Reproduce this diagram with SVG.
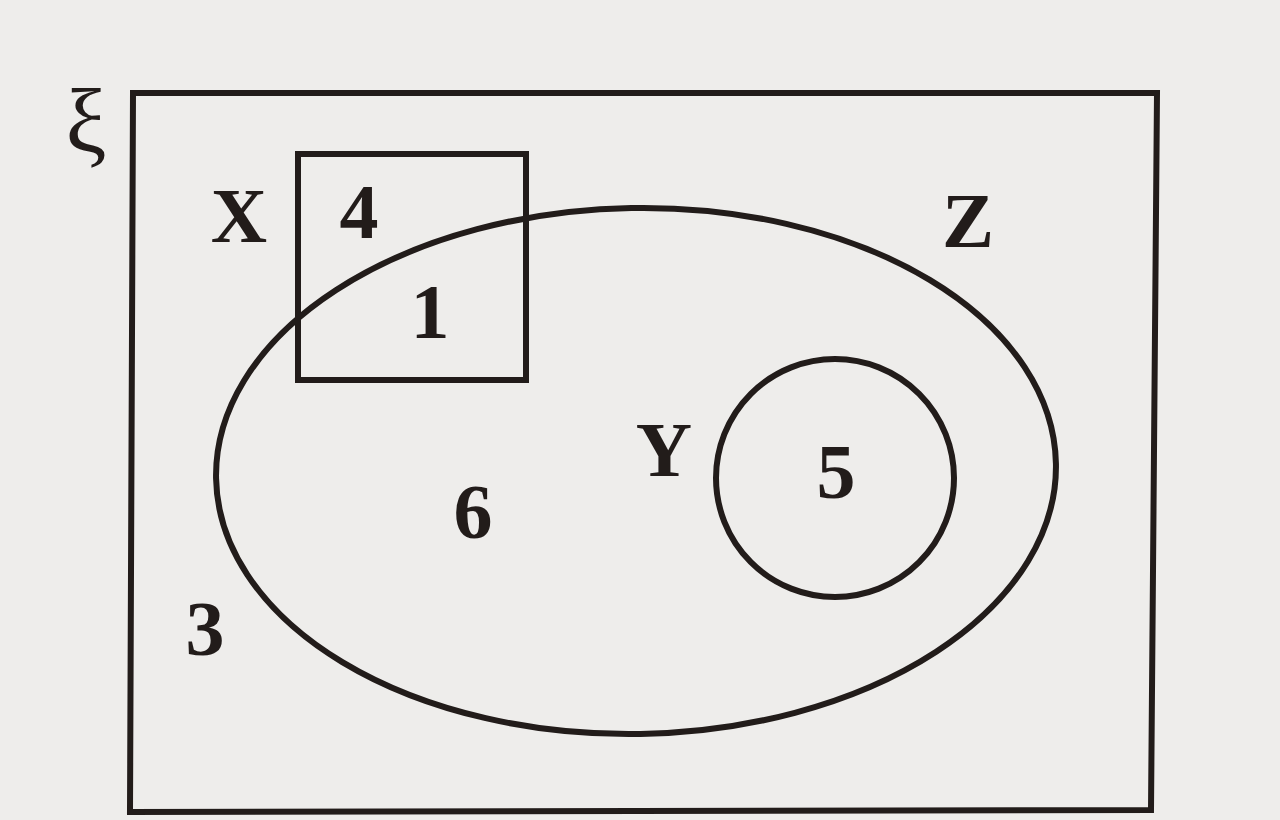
<svg xmlns="http://www.w3.org/2000/svg" width="1280" height="820" viewBox="0 0 1280 820">
<style>
.ln{fill:none;stroke:#221c1a;stroke-width:6}
.lb{font-family:"Liberation Serif","DejaVu Serif",serif;font-weight:bold;font-size:78px;fill:#221c1a;text-anchor:middle}
</style>
<rect width="1280" height="820" fill="#eeedeb"/>
<g id="universe">
<polygon class="ln" points="133,93 1157,93 1151,810 130,812" stroke-width="6.5"/>
<text x="86" y="152" font-family="'Liberation Serif','DejaVu Serif',serif" font-size="92" fill="#221c1a" text-anchor="middle">ξ</text>
<text class="lb" x="205" y="655">3</text>
</g>
<g id="Z">
<ellipse class="ln" cx="636" cy="471" rx="420" ry="263" transform="rotate(-1 636 471)"/>
<text class="lb" x="968" y="247">Z</text>
<text class="lb" x="473" y="538">6</text>
</g>
<g id="X">
<rect class="ln" x="298" y="154" width="228" height="226" stroke-width="6.5"/>
<text class="lb" x="239" y="242">X</text>
<text class="lb" x="359" y="238">4</text>
<text class="lb" x="430" y="338">1</text>
</g>
<g id="Y">
<circle class="ln" cx="835" cy="478" r="119"/>
<text class="lb" x="664" y="476">Y</text>
<text class="lb" x="836" y="498">5</text>
</g>
</svg>
